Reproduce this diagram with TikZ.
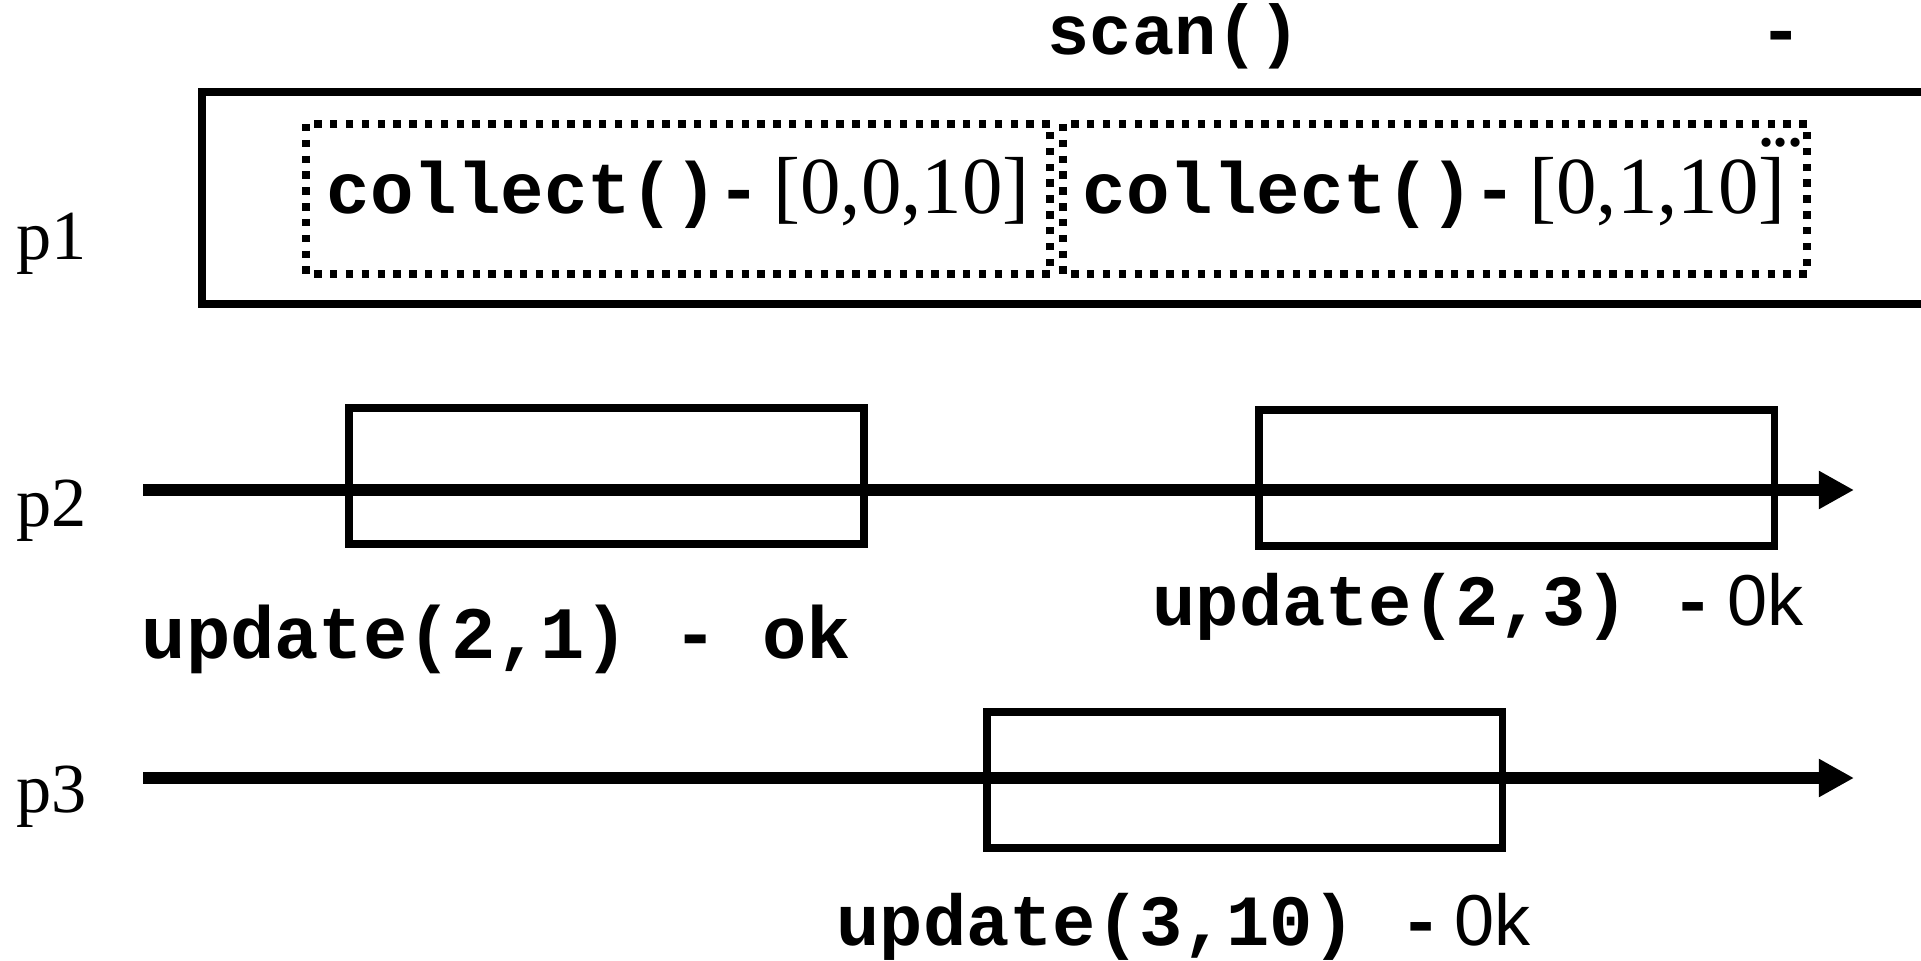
\documentclass[tikz,border=0pt]{standalone}
\usepackage{fontspec}
\setmainfont{Liberation Serif}
\newfontfamily\codefont{Liberation Mono}
\newfontfamily\okfont{Liberation Sans}
\usetikzlibrary{arrows.meta}

\tikzset{
    codelabel/.style={font=\codefont\bfseries\fontsize{20.6}{24}\selectfont, inner sep=0pt, anchor=base west},
    updlabel/.style={font=\codefont\bfseries\fontsize{20.5}{24}\selectfont, inner sep=0pt, anchor=base west},
    proclabel/.style={font=\rmfamily\fontsize{20}{24}\selectfont, inner sep=0pt, anchor=base west},
    timeline/.style={line width=3.4pt, -{Triangle[length=10pt,width=10.2pt]}},
    opbox/.style={draw, line width=2pt},
    collectbox/.style={draw, line width=2.1pt, dash pattern=on 2.1pt off 2.4pt},
}
\newcommand{\vals}[1]{{\rmfamily\mdseries\fontsize{23}{24}\selectfont#1}}

\begin{document}
\begin{tikzpicture}[x=0.01cm, y=-0.01cm]
    \useasboundingbox (0,0) rectangle (1921,961);

    % scan of p1
    \draw[line width=2pt] (1921,92) -- (202,92) -- (202,304) -- (1921,304);
    \node[codelabel, font=\codefont\bfseries\fontsize{20}{24}\selectfont] (scan) at (1047,55) {scan()};
    \node[codelabel, anchor=base] (scandash) at (1781,55) {-};

    % collects inside the scan
    \draw[collectbox] (306,124) rectangle (1050,274);
    \draw[collectbox] (1063,124) rectangle (1807,274);
    \node[codelabel] (collecta) at (326,214) {collect()-\,\vals{[0,0,10]}};
    \node[codelabel] (collectb) at (1082,214) {collect()-\,\vals{[0,1,10]}};
    \node[font=\rmfamily\bfseries\fontsize{16}{16}\selectfont, inner sep=0pt, anchor=base] (more) at (1781,147) {...};

    % process labels
    \node[proclabel] (p1) at (16,260) {p1};
    \node[proclabel] (p2) at (16,527) {p2};
    \node[proclabel] (p3) at (16,812) {p3};

    % time lines
    \coordinate (p2start) at (143,490);
    \coordinate (p2end) at (1854,490);
    \coordinate (p3start) at (143,778);
    \coordinate (p3end) at (1854,778);
    \draw[timeline] (p2start) -- (p2end);
    \draw[timeline] (p3start) -- (p3end);

    % updates
    \draw[opbox] (349,408) rectangle (864,544);
    \draw[opbox] (1259,410) rectangle (1774,546);
    \draw[opbox] (987,712) rectangle (1502,848);

    % add labels
    \node[updlabel, font=\codefont\bfseries\fontsize{21}{24}\selectfont] (upda) at (141,658) {update(2,1) - ok};
    \node[updlabel] (updb) at (1152,626) {update(2,3) -\,{\okfont\mdseries 0k}};
    \node[updlabel] (updc) at (836,945) {update(3,10) -\,{\okfont\mdseries 0k}};

\end{tikzpicture}
\end{document}
